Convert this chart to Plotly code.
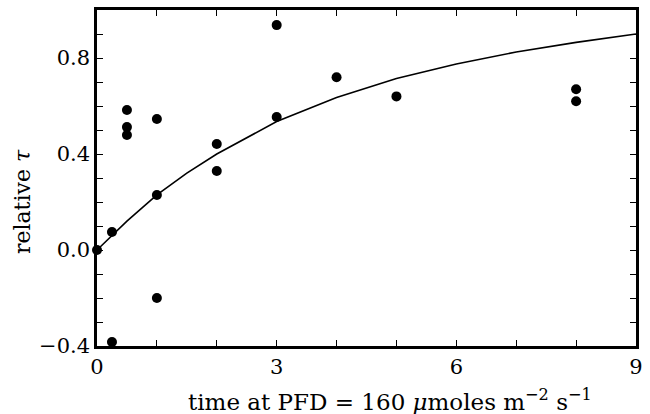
import plotly.graph_objects as go

# data
time_pts = [0, 0.25, 0.25, 0.5, 0.5, 0.5, 1, 1, 1, 2, 2, 3, 3, 4, 5, 8, 8]
tau_pts = [0.0, 0.075, -0.383, 0.583, 0.512, 0.479, 0.546, 0.229, -0.2,
           0.442, 0.329, 0.937, 0.554, 0.72, 0.64, 0.67, 0.62]

fit_time = [0, 0.5, 1, 1.5, 2, 3, 4, 5, 6, 7, 8, 9]
fit_tau = [0.0, 0.12, 0.23, 0.32, 0.40, 0.535, 0.635, 0.715, 0.775, 0.825, 0.865, 0.90]

y_tickvals = [round(-0.4 + 0.1 * i, 1) for i in range(14)]
y_labels = {-0.4: "\u22120.4", 0.0: "0.0", 0.4: "0.4", 0.8: "0.8"}
y_ticktext = [y_labels.get(v, "") for v in y_tickvals]

x_tickvals = list(range(0, 10))
x_labels = {0: "0", 3: "3", 6: "6", 9: "9"}
x_ticktext = [x_labels.get(v, "") for v in x_tickvals]

x_title = "time at PFD = 160 <i>\u03bc</i>moles m<sup>\u22122</sup> s<sup>\u22121</sup>"
y_title = "relative <i>\u03c4</i>"

font_family = "DejaVu Serif"

fig = go.Figure()
fig.add_trace(go.Scatter(x=fit_time, y=fit_tau, mode="lines",
                         line=dict(color="black", width=1.6), hoverinfo="skip"))
fig.add_trace(go.Scatter(x=time_pts, y=tau_pts, mode="markers",
                         marker=dict(color="black", size=10), cliponaxis=False))

axis_common = dict(showgrid=False, zeroline=False, showline=True, linecolor="black",
                   linewidth=2.5, mirror="ticks", ticks="inside", ticklen=6,
                   tickwidth=1.2, tickcolor="black", automargin=False,
                   tickfont=dict(family=font_family, size=21, color="black"))

fig.update_layout(
    width=650, height=414,
    margin=dict(l=97, r=14, t=10, b=68),
    paper_bgcolor="white", plot_bgcolor="white",
    showlegend=False,
    font=dict(family=font_family, color="black"),
    xaxis=dict(range=[0, 9], tickmode="array", tickvals=x_tickvals, ticktext=x_ticktext,
               **axis_common),
    yaxis=dict(range=[-0.4, 1.0], tickmode="array", tickvals=y_tickvals, ticktext=y_ticktext,
               **axis_common),
    annotations=[
        dict(text=x_title, xref="x", yref="paper", x=4.9, y=-0.16,
             xanchor="center", yanchor="middle", showarrow=False,
             font=dict(family=font_family, size=23, color="black")),
        dict(text=y_title, xref="paper", yref="y", x=-0.139, y=0.2,
             xanchor="center", yanchor="middle", textangle=-90, showarrow=False,
             font=dict(family=font_family, size=22, color="black")),
    ],
)

fig.write_html("out.html", post_script="document.body.style.margin='0';",
               config={"displayModeBar": False})
